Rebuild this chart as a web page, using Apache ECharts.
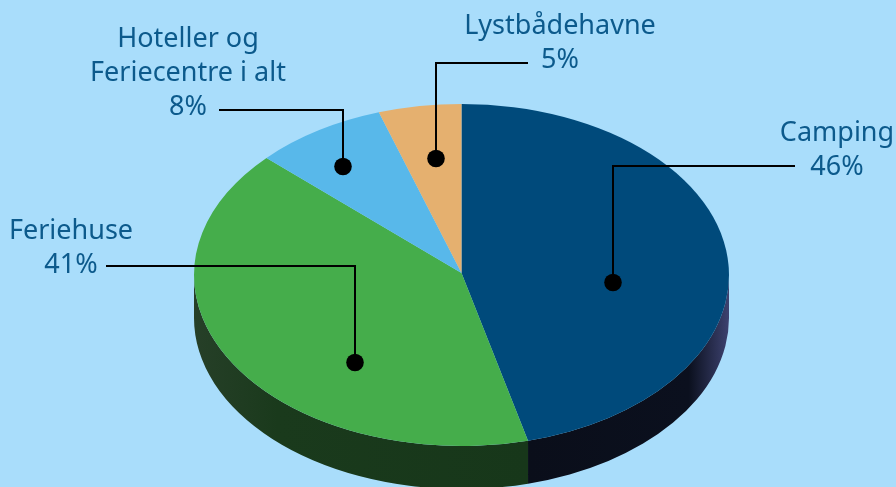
<!DOCTYPE html>
<html>
<head>
<meta charset="utf-8">
<style>
  html, body { margin: 0; padding: 0; background: #a9ddfb; }
  #chart { width: 896px; height: 487px; }
</style>
</head>
<body>
<div id="chart"></div>
<script src="https://cdn.jsdelivr.net/npm/echarts@6/dist/echarts.min.js"></script>
<script>
const categories = ['Camping', 'Feriehuse', 'Hoteller og\nFeriecentre i alt', 'Lystbådehavne']
const shares = [46, 41, 8, 5]

const topColors = ['#004a7b', '#45ad4b', '#58b8ea', '#e5b06f']
const wallColors = [
  ['#0a0e1a', '#0b101e', '#3d4270'],
  ['#263f28', '#1a3a1c', '#17371a']
]

// flattened disc, the apex sits a little above the ellipse centre in the picture
const disc = { cx: 461.5, cy: 275, rx: 267.5, ry: 171, depth: 43, apexY: 273 }

// callouts: text anchor, leader line, dot at the end of the line
const callouts = [
  { x: 837, y: 150, line: [[795, 166], [613, 166], [613, 282.5]] },
  { x: 71, y: 248, line: [[106, 266], [355, 266], [355, 362.5]] },
  { x: 188, y: 73, line: [[219, 110], [343, 110], [343, 166.5]] },
  { x: 560, y: 43, line: [[528, 63], [436, 63], [436, 158.5]] }
]

const total = shares.reduce((a, b) => a + b, 0)

function pointAt (angle, dy) {
  return [
    disc.cx + disc.rx * Math.sin(angle),
    disc.cy - disc.ry * Math.cos(angle) + (dy || 0)
  ]
}

function arcTo (from, to, dy) {
  const p = pointAt(to, dy)
  const large = Math.abs(to - from) > Math.PI ? 1 : 0
  const sweep = to > from ? 1 : 0
  return `A${disc.rx} ${disc.ry} 0 ${large} ${sweep} ${p[0]} ${p[1]}`
}

function renderSlice (params, api) {
  const i = params.dataIndex
  let before = 0
  for (let k = 0; k < i; k++) before += shares[k]
  const a0 = before / total * Math.PI * 2
  const a1 = (before + api.value(0)) / total * Math.PI * 2

  const children = []

  // side wall, only the front half of the disc shows it
  const w0 = Math.max(a0, Math.PI / 2)
  const w1 = Math.min(a1, Math.PI * 1.5)
  if (w1 > w0 && wallColors[i]) {
    const s = pointAt(w0, 0)
    const e = pointAt(w1, disc.depth)
    const stops = wallColors[i]
    // camping gets lighter towards the right, feriehuse towards the left
    const colorStops = i === 0
      ? [{ offset: 0, color: stops[0] }, { offset: 0.8, color: stops[1] }, { offset: 1, color: stops[2] }]
      : [{ offset: 0, color: stops[0] }, { offset: 0.25, color: stops[1] }, { offset: 1, color: stops[2] }]
    children.push({
      type: 'path',
      shape: {
        pathData: `M${s[0]} ${s[1]}${arcTo(w0, w1, 0)}L${e[0]} ${e[1]}${arcTo(w1, w0, disc.depth)}Z`
      },
      style: {
        fill: { type: 'linear', x: 0, y: 0, x2: 1, y2: 0, colorStops: colorStops }
      }
    })
  }

  const s = pointAt(a0, 0)
  children.push({
    type: 'path',
    shape: {
      pathData: `M${disc.cx} ${disc.apexY}L${s[0]} ${s[1]}${arcTo(a0, a1, 0)}Z`
    },
    style: { fill: topColors[i] }
  })

  return { type: 'group', children: children }
}

function buildCallouts () {
  const elements = []
  callouts.forEach((c, i) => {
    elements.push({
      type: 'polyline',
      z: 10,
      shape: { points: c.line },
      style: { stroke: '#000', lineWidth: 2, fill: null }
    })
    const end = c.line[c.line.length - 1]
    elements.push({
      type: 'circle',
      z: 11,
      shape: { cx: end[0], cy: end[1], r: 8.8 },
      style: { fill: '#000' }
    })
    elements.push({
      type: 'text',
      z: 12,
      x: c.x,
      y: c.y,
      style: {
        text: `${categories[i]}\n${shares[i]}%`,
        fill: '#0c5a8c',
        fontFamily: 'Noto Sans',
        fontSize: 27,
        lineHeight: 34,
        align: 'center',
        verticalAlign: 'middle'
      }
    })
  })
  return elements
}

const chart = echarts.init(document.getElementById('chart'), null, { renderer: 'canvas' })
chart.setOption({
  backgroundColor: '#a9ddfb',
  animation: false,
  series: [
    {
      type: 'custom',
      coordinateSystem: 'none',
      silent: true,
      data: shares.map(v => [v]),
      renderItem: renderSlice
    }
  ],
  graphic: { elements: buildCallouts() }
})
</script>
</body>
</html>
